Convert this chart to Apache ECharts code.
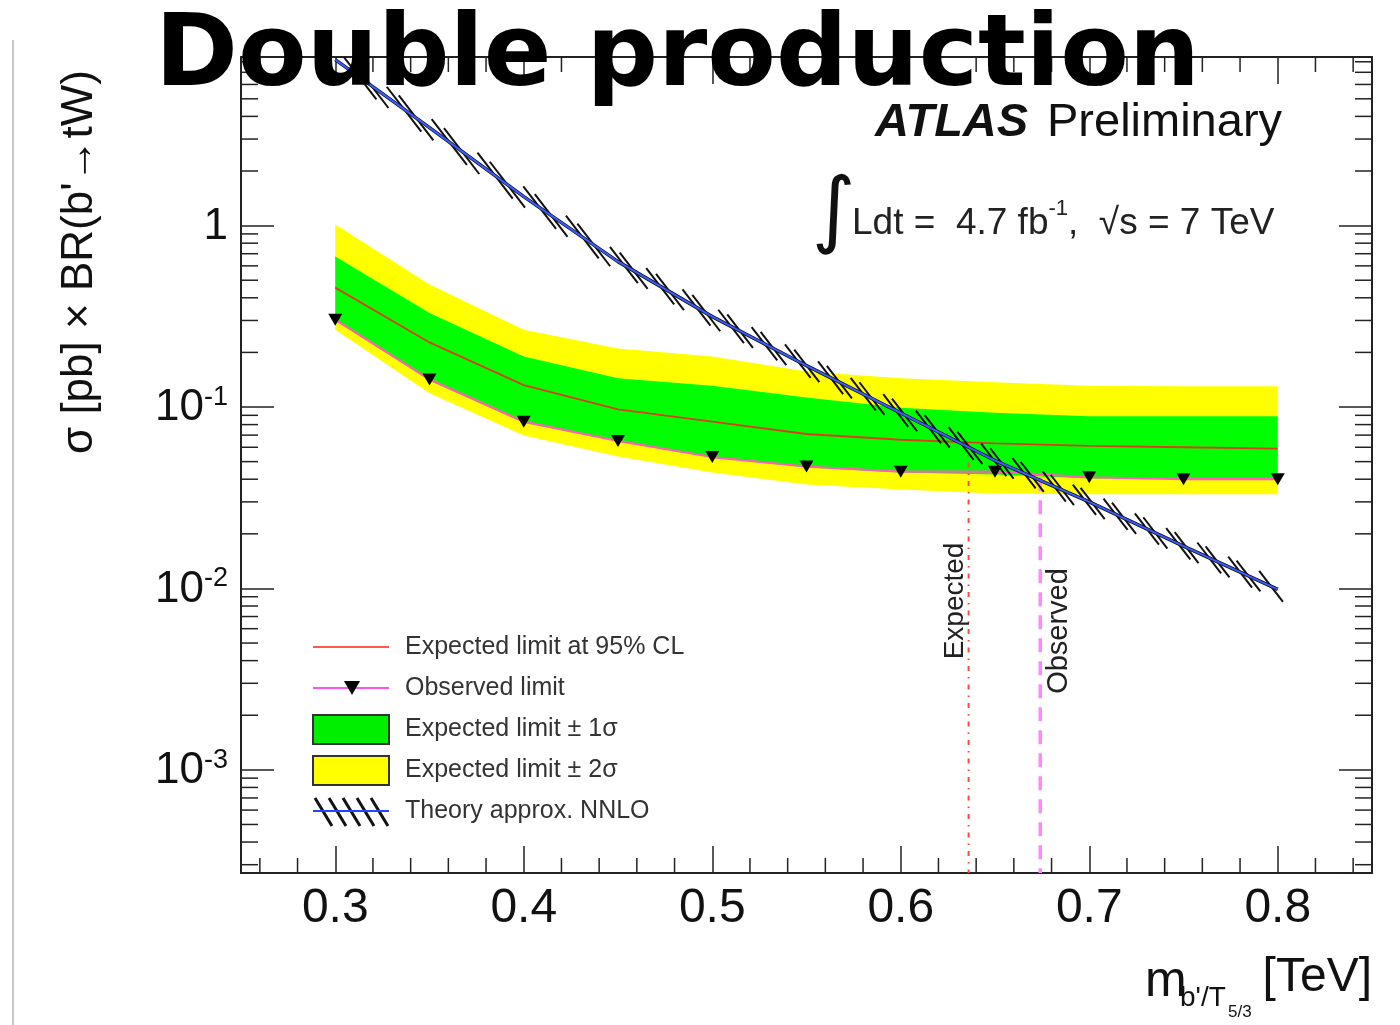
<!DOCTYPE html>
<html><head><meta charset="utf-8">
<script src="https://cdn.jsdelivr.net/npm/echarts@6/dist/echarts.min.js"></script>
<style>html,body{margin:0;padding:0;background:#fff}#c{width:1400px;height:1025px}</style>
</head><body><div id="c"></div>
<script>
// ---- data ----
const masses       = [0.30, 0.35, 0.40, 0.45, 0.50, 0.55, 0.60, 0.65, 0.70, 0.75, 0.80];
const expected     = [0.455, 0.227, 0.132, 0.097, 0.083, 0.071, 0.066, 0.063, 0.061, 0.060, 0.059];
const observed     = [0.303, 0.142, 0.083, 0.065, 0.053, 0.047, 0.044, 0.044, 0.041, 0.040, 0.040];
const oneSigmaUp   = [0.675, 0.330, 0.190, 0.144, 0.131, 0.113, 0.099, 0.093, 0.089, 0.089, 0.089];
const oneSigmaDown = [0.300, 0.140, 0.082, 0.065, 0.0527, 0.0464, 0.0436, 0.0425, 0.0404, 0.0404, 0.0404];
const twoSigmaUp   = [1.013, 0.473, 0.267, 0.210, 0.190, 0.157, 0.144, 0.137, 0.131, 0.130, 0.130];
const twoSigmaDown = [0.267, 0.119, 0.0697, 0.0534, 0.0436, 0.0374, 0.0351, 0.0334, 0.0330, 0.0330, 0.0330];
const theory       = [8.22, 3.47, 1.445, 0.633, 0.315, 0.169, 0.0927, 0.0507, 0.030, 0.0171, 0.00987];
const expLimitMass = 0.636, expLimitTop = 0.0625;
const obsLimitMass = 0.674, obsLimitTop = 0.041;
const xMin = 0.25, xMax = 0.85;
const yMin = 2.7e-4, yMax = 8.5;
const xTickLabels = ['0.3', '0.4', '0.5', '0.6', '0.7', '0.8'];
const xMinorTicks = [0.26, 0.28, 0.32, 0.34, 0.36, 0.38, 0.42, 0.44, 0.46, 0.48, 0.52, 0.54, 0.56, 0.58,
                     0.62, 0.64, 0.66, 0.68, 0.72, 0.74, 0.76, 0.78, 0.82, 0.84];
const yMinorTicks = [];
for (let e = -4; e <= 0; e++) for (let k = 2; k <= 9; k++) {
  const v = k * Math.pow(10, e);
  if (v > yMin && v < yMax) yMinorTicks.push(v);
}
const legendLabels = ['Expected limit at 95% CL', 'Observed limit', 'Expected limit \u00b1 1\u03c3',
                      'Expected limit \u00b1 2\u03c3', 'Theory approx. NNLO'];

const chart = echarts.init(document.getElementById('c'), null, {renderer: 'canvas'});
const AX = '#222';
const FONT = 'Liberation Sans, Arial, Helvetica, sans-serif';

function bandRender(upper, lower, color) {
  return function (params, api) {
    if (params.dataIndex !== 0) return null;
    const pts = [];
    for (let i = 0; i < masses.length; i++) pts.push(api.coord([masses[i], upper[i]]));
    for (let i = masses.length - 1; i >= 0; i--) pts.push(api.coord([masses[i], lower[i]]));
    return {type: 'polygon', shape: {points: pts}, style: {fill: color}, silent: true};
  };
}

function hatchRender(params, api) {
  if (params.dataIndex !== 0) return null;
  const P = masses.map((m, i) => api.coord([m, theory[i]]));
  const k = 1.3, hh = 10, dc = 26, offs = [0, 7];
  const children = [];
  for (let i = 0; i < P.length - 1; i++) {
    const [x1, y1] = P[i], [x2, y2] = P[i + 1];
    const s = (y2 - y1) / (x2 - x1);
    const c1 = y1 - k * x1, c2 = y2 - k * x2;
    const jStart = Math.floor(c2 / dc) - 1, jEnd = Math.ceil(c1 / dc) + 1;
    for (let j = jStart; j <= jEnd; j++) {
      for (const off of offs) {
        const c = j * dc - off;
        if (!(c > c2 && c <= c1)) continue;
        const xc = (y1 - s * x1 - c) / (k - s);
        const yc = y1 + s * (xc - x1);
        const a = hh / (k - s);
        children.push({type: 'line', shape: {x1: xc - a, y1: yc - k * a, x2: xc + a, y2: yc + k * a},
          style: {stroke: '#111', lineWidth: 2}, silent: true});
      }
    }
  }
  return {type: 'group', children: children};
}

function yMinorRender(params, api) {
  const cs = params.coordSys;
  const p = api.coord([xMin, api.value(1)]);
  const st = {stroke: AX, lineWidth: 1.5};
  return {type: 'group', children: [
    {type: 'line', shape: {x1: cs.x, y1: p[1], x2: cs.x + 17, y2: p[1]}, style: st},
    {type: 'line', shape: {x1: cs.x + cs.width - 17, y1: p[1], x2: cs.x + cs.width, y2: p[1]}, style: st}
  ]};
}
function xMinorRender(params, api) {
  const cs = params.coordSys;
  const p = api.coord([api.value(0), yMin]);
  const st = {stroke: AX, lineWidth: 1.5};
  return {type: 'group', children: [
    {type: 'line', shape: {x1: p[0], y1: cs.y + cs.height, x2: p[0], y2: cs.y + cs.height - 15}, style: st},
    {type: 'line', shape: {x1: p[0], y1: cs.y, x2: p[0], y2: cs.y + 15}, style: st}
  ]};
}

function yLabel(v) {
  const e = Math.round(Math.log10(v));
  if (e === 0) return '{n|1}';
  return '{n|10}{s|' + e + '}';
}

const commonX = {
  type: 'value', min: xMin, max: xMax, splitNumber: 6,
  axisLine: {show: true, onZero: false, lineStyle: {color: AX, width: 2}},
  axisTick: {show: true, inside: true, length: 27, lineStyle: {color: AX, width: 1.5}},
  splitLine: {show: false}
};
const commonY = {
  type: 'log', logBase: 10, min: yMin, max: yMax,
  axisLine: {show: true, onZero: false, lineStyle: {color: AX, width: 2}},
  axisTick: {show: true, inside: true, length: 33, lineStyle: {color: AX, width: 1.5}},
  splitLine: {show: false}
};

const lx = 313, lx2 = 389, ltx = 405;
const legendY = [647, 688, 729, 770, 811];
const legendGraphics = [
  {type: 'line', shape: {x1: lx, y1: legendY[0], x2: lx2, y2: legendY[0]}, style: {stroke: '#ff5a4a', lineWidth: 2}},
  {type: 'line', shape: {x1: lx, y1: legendY[1], x2: lx2, y2: legendY[1]}, style: {stroke: '#ff55ee', lineWidth: 2}},
  {type: 'polygon', shape: {points: [[344, legendY[1] - 7], [360, legendY[1] - 7], [352, legendY[1] + 7]]}, style: {fill: '#000'}},
  {type: 'rect', shape: {x: lx, y: 715, width: lx2 - lx, height: 29}, style: {fill: '#00ee00', stroke: '#333', lineWidth: 2}},
  {type: 'rect', shape: {x: lx, y: 756, width: lx2 - lx, height: 29}, style: {fill: '#ffff00', stroke: '#333', lineWidth: 2}}
];
[315, 329, 343, 357, 371].forEach(x0 => {
  legendGraphics.push({type: 'line', shape: {x1: x0, y1: 798, x2: x0 + 17, y2: 826}, style: {stroke: '#111', lineWidth: 3}});
});
legendGraphics.push({type: 'line', shape: {x1: lx, y1: legendY[4], x2: lx2, y2: legendY[4]}, style: {stroke: '#2244ff', lineWidth: 2}});
legendLabels.forEach((t, i) => {
  legendGraphics.push({type: 'text', x: ltx, y: legendY[i],
    style: {text: t, font: '25px ' + FONT, fill: '#333', align: 'left', verticalAlign: 'middle', textAlign: 'left', textVerticalAlign: 'middle'}});
});

function txt(text, x, y, font, opts) {
  return Object.assign({type: 'text', x: x, y: y, z: 50,
    style: Object.assign({text: text, font: font, fill: '#111', align: 'left', verticalAlign: 'middle',
      textAlign: 'left', textVerticalAlign: 'middle'}, (opts && opts.style) || {})},
    (opts && opts.el) || {});
}

const option = {
  animation: false,
  backgroundColor: '#fff',
  grid: {left: 241, top: 57, width: 1131, height: 816, containLabel: false},
  xAxis: [
    Object.assign({}, commonX, {position: 'bottom',
      axisLabel: {show: true, fontSize: 48, color: '#111', fontFamily: FONT, margin: 12,
        showMinLabel: false, showMaxLabel: false,
        formatter: v => { const s = v.toFixed(1); return xTickLabels.indexOf(s) >= 0 ? s : ''; }}}),
    Object.assign({}, commonX, {position: 'top', axisLabel: {show: false}})
  ],
  yAxis: [
    Object.assign({}, commonY, {position: 'left',
      axisLabel: {show: true, margin: 13, showMinLabel: false, showMaxLabel: false, formatter: yLabel,
        rich: {n: {fontSize: 44, color: '#111', fontFamily: FONT, lineHeight: 46, verticalAlign: 'bottom'},
               s: {fontSize: 27, color: '#111', fontFamily: FONT, lineHeight: 46, verticalAlign: 'top', padding: [0, 0, 12, 0]}}}}),
    Object.assign({}, commonY, {position: 'right', axisLabel: {show: false}})
  ],
  series: [
    {type: 'custom', name: 'Expected limit \u00b1 2\u03c3', z: 1, renderItem: bandRender(twoSigmaUp, twoSigmaDown, '#ffff00'),
     data: masses.map((m, i) => [m, twoSigmaUp[i]]), encode: {x: 0, y: 1}, silent: true},
    {type: 'custom', name: 'Expected limit \u00b1 1\u03c3', z: 2, renderItem: bandRender(oneSigmaUp, oneSigmaDown, '#00ff00'),
     data: masses.map((m, i) => [m, oneSigmaUp[i]]), encode: {x: 0, y: 1}, silent: true},
    {type: 'line', name: 'Expected limit at 95% CL', z: 3, data: masses.map((m, i) => [m, expected[i]]),
     showSymbol: false, lineStyle: {color: '#d8401c', width: 1.8}, silent: true},
    {type: 'line', name: 'Observed limit', z: 4, data: masses.map((m, i) => [m, observed[i]]),
     symbol: 'triangle', symbolRotate: 180, symbolSize: [14, 12], itemStyle: {color: '#000'},
     lineStyle: {color: '#ff5fb8', width: 2.2}, silent: true},
    {type: 'line', name: 'limit-exp', z: 5, data: [[expLimitMass, expLimitTop], [expLimitMass, yMin]],
     showSymbol: false, lineStyle: {color: '#ff4a3a', width: 2, type: [5, 6, 1.5, 6]}, silent: true},
    {type: 'line', name: 'limit-obs', z: 5, data: [[obsLimitMass, obsLimitTop], [obsLimitMass, yMin]],
     showSymbol: false, lineStyle: {color: '#ff88ff', width: 3.5, type: [14, 9]}, silent: true},
    {type: 'custom', name: 'Theory approx. NNLO hatch', z: 6, renderItem: hatchRender, clip: true,
     data: masses.map((m, i) => [m, theory[i]]), encode: {x: 0, y: 1}, silent: true},
    {type: 'line', name: 'theory-edge', z: 7, data: masses.map((m, i) => [m, theory[i]]),
     showSymbol: false, lineStyle: {color: '#111', width: 3.5}, silent: true},
    {type: 'line', name: 'Theory approx. NNLO', z: 8, data: masses.map((m, i) => [m, theory[i]]),
     showSymbol: false, lineStyle: {color: '#3a5cff', width: 2}, silent: true},
    {type: 'custom', name: 'yminor', z: 9, renderItem: yMinorRender, data: yMinorTicks.map(v => [xMin, v]),
     encode: {x: 0, y: 1}, silent: true},
    {type: 'custom', name: 'xminor', z: 9, renderItem: xMinorRender, data: xMinorTicks.map(v => [v, yMin]),
     encode: {x: 0, y: 1}, silent: true}
  ],
  graphic: [
    {type: 'line', shape: {x1: 13, y1: 40, x2: 13, y2: 1025}, style: {stroke: '#c8c8c8', lineWidth: 2}},
    ...legendGraphics,
    txt('ATLAS', 875, 123, 'italic bold 47px ' + FONT),
    txt('Preliminary', 1047, 123, '47px ' + FONT),
    txt('\u222b', 812, 215, '84px DejaVu Sans'),
    {type: 'text', x: 852, y: 220, z: 50, style: {
      text: '{a|Ldt =  4.7 fb}{b|-1}{a|,  \u221as = 7 TeV}', align: 'left', verticalAlign: 'middle',
      textAlign: 'left', textVerticalAlign: 'middle',
      rich: {a: {font: '37px ' + FONT, fill: '#222', color: '#222', lineHeight: 44, verticalAlign: 'bottom'},
             b: {font: '22px ' + FONT, fill: '#222', color: '#222', lineHeight: 44, verticalAlign: 'top'}}}},
    txt('\u03c3 [pb] \u00d7 BR(b\'\u2192tW)', 80, 262, '44px ' + FONT,
      {style: {align: 'center', textAlign: 'center'}, el: {rotation: Math.PI / 2}}),
    txt('Expected', 955, 601, '28px ' + FONT, {style: {align: 'center', textAlign: 'center', fill: '#222'}, el: {rotation: Math.PI / 2}}),
    txt('Observed', 1059, 631, '29px ' + FONT, {style: {align: 'center', textAlign: 'center', fill: '#222'}, el: {rotation: Math.PI / 2}}),
    txt('m', 1145, 982, '50px ' + FONT),
    txt('b\'/T', 1180, 998, '28px ' + FONT),
    txt('5/3', 1228, 1012, '17px ' + FONT),
    txt('[TeV]', 1372, 978, '48px ' + FONT, {style: {align: 'right', textAlign: 'right'}}),
    txt('Double production', 155, 59, 'bold 100px DejaVu Sans', {style: {fill: '#000'}, el: {z: 100}})
  ]
};
chart.setOption(option);
</script>
</body></html>
